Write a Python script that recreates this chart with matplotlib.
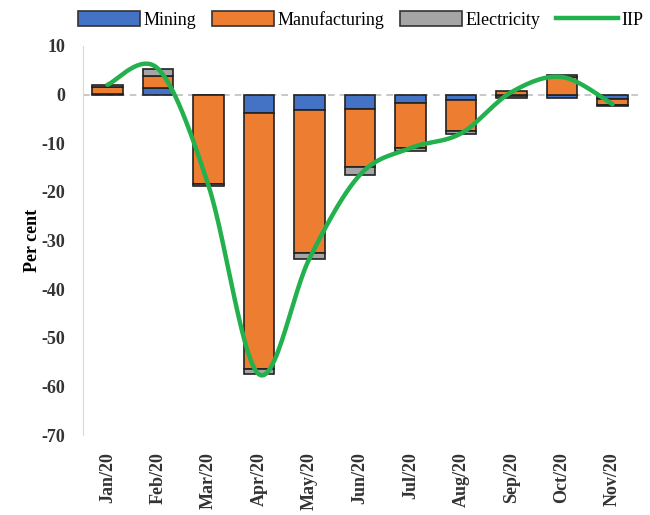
import matplotlib.pyplot as plt
import numpy as np
from matplotlib.patches import Patch
from matplotlib.lines import Line2D

months = ["Jan/20", "Feb/20", "Mar/20", "Apr/20", "May/20", "Jun/20",
          "Jul/20", "Aug/20", "Sep/20", "Oct/20", "Nov/20"]
mining = [0.1, 1.4, -0.1, -3.9, -3.2, -2.9, -1.8, -1.2, -0.4, -0.8, -1.0]
manufacturing = [1.5, 2.5, -18.2, -52.6, -29.4, -12.0, -9.1, -6.3, 0.8, 3.6, -1.2]
electricity = [0.4, 1.4, -0.4, -1.0, -1.1, -1.6, -0.7, -0.6, -0.4, 0.5, -0.2]
iip = [2.0, 5.3, -18.7, -57.5, -33.7, -16.5, -11.0, -8.0, 0.5, 3.6, -2.0]

colors = {"Mining": "#4472C4", "Manufacturing": "#ED7D31", "Electricity": "#A5A5A5"}
green = "#22B14C"

plt.rcParams["font.family"] = ["Liberation Serif", "DejaVu Serif"]
plt.rcParams["axes.unicode_minus"] = False

fig = plt.figure(figsize=(6.5, 5.15), dpi=100)
ax = fig.add_axes([0.128, 0.155, 0.857, 0.756])

x = np.arange(len(months))
pos = np.zeros(len(x))
neg = np.zeros(len(x))
# excel style stacking: positives go up, negatives go down
for name, vals in [("Mining", mining), ("Manufacturing", manufacturing), ("Electricity", electricity)]:
    vals = np.array(vals)
    bottom = np.where(vals >= 0, pos, neg)
    ax.bar(x, vals, 0.6, bottom=bottom, color=colors[name], edgecolor="#222222", linewidth=1.2, zorder=2)
    pos = pos + np.clip(vals, 0, None)
    neg = neg + np.clip(vals, None, 0)

# smoothed line (catmull-rom through the points, like excel's smooth line)
px = x.astype(float)
py = np.array(iip, dtype=float)
P = np.column_stack([px, py])
P = np.vstack([P[0], P, P[-1]])
t = np.linspace(0, 1, 30)
sx, sy = [], []
for i in range(1, len(P) - 2):
    p0, p1, p2, p3 = P[i - 1], P[i], P[i + 1], P[i + 2]
    c1 = p1 + (p2 - p0) / 6
    c2 = p2 - (p3 - p1) / 6
    seg = ((1 - t)[:, None] ** 3 * p1 + 3 * ((1 - t) ** 2 * t)[:, None] * c1
           + 3 * ((1 - t) * t ** 2)[:, None] * c2 + (t ** 3)[:, None] * p2)
    sx.extend(seg[:, 0])
    sy.extend(seg[:, 1])
ax.plot(sx, sy, color=green, linewidth=3.2, zorder=3, solid_capstyle="round")

ax.axhline(0, color="#BFBFBF", linewidth=1.2, linestyle=(0, (4, 3)), zorder=1)

ax.set_xlim(-0.48, 10.55)
ax.set_ylim(-70, 10)
ax.set_yticks(range(-70, 11, 10))
ax.set_xticks(x)
ax.set_xticklabels(months, rotation=90, fontsize=13, fontweight="bold", color="#333333")
ax.tick_params(axis="y", labelsize=13, length=0, pad=13, labelcolor="#333333")
for lab in ax.get_yticklabels():
    lab.set_fontweight("bold")
ax.tick_params(axis="x", length=0, pad=12)

for s in ["top", "right", "bottom"]:
    ax.spines[s].set_visible(False)
ax.spines["left"].set_color("#D9D9D9")

ax.set_ylabel("Per cent", fontsize=13, fontweight="bold")
ax.yaxis.set_label_coords(-0.075, 0.5)

handles = [Patch(facecolor=colors[k], edgecolor="#333333", linewidth=1.2) for k in colors]
handles.append(Line2D([0], [0], color=green, linewidth=3.2))
fig.legend(handles, list(colors) + ["IIP"], loc="upper center", bbox_to_anchor=(0.555, 1.01),
           ncol=4, frameon=False, fontsize=13, handlelength=3.4, handletextpad=0.2,
           columnspacing=0.9, handleheight=0.9)

fig.savefig("out.png", dpi=100)
